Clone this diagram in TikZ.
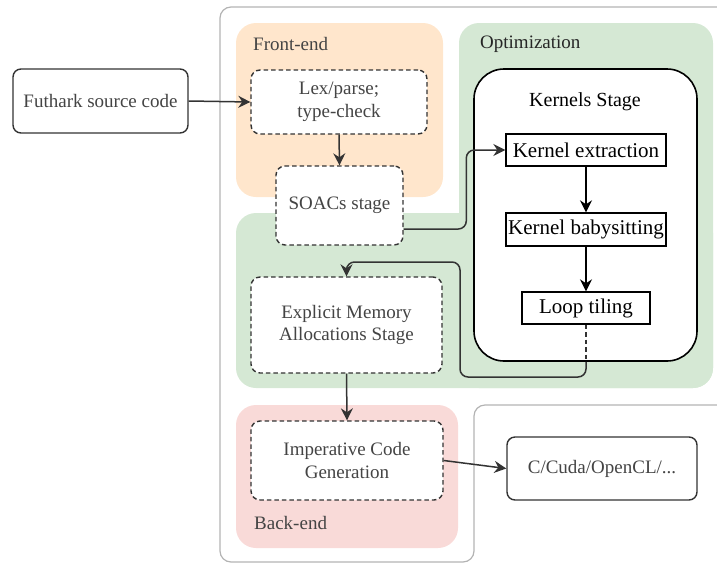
\documentclass[tikz,border=0pt]{standalone}
\usepackage{fontspec}
\setmainfont{Liberation Serif}
\usetikzlibrary{arrows.meta}
\definecolor{txt}{HTML}{444444}
\definecolor{lin}{HTML}{333333}
\definecolor{outl}{HTML}{B3B3B3}
\definecolor{peach}{HTML}{FFE6CC}
\definecolor{greenr}{HTML}{D5E8D4}
\definecolor{pinkr}{HTML}{F9DAD8}
\begin{document}
\begin{tikzpicture}[x=1pt,y=-1pt,
  gfont/.style={font=\fontsize{19}{22.5}\selectfont},
  kfont/.style={font=\fontsize{21}{24}\selectfont},
  dbox/.style={draw=lin, line width=1.4pt, dash pattern=on 4.5pt off 3pt, rounded corners=9pt, fill=white,
    inner sep=0pt, text=txt, gfont, align=center},
  sbox/.style={draw=lin, line width=1.4pt, rounded corners=8pt, fill=white,
    inner sep=0pt, text=txt, gfont, align=center},
  kbox/.style={draw=black, line width=1.4pt, fill=white, inner sep=0pt, text=black, kfont},
  arr/.style={draw=lin, line width=1.5pt, -{Stealth[length=12pt,width=12pt,inset=4pt]}},
  karr/.style={draw=black, line width=1.5pt, -{Stealth[length=12pt,width=12pt,inset=4pt]}},
  lbl/.style={inner sep=0pt, anchor=west, gfont, text=txt}]
\useasboundingbox (0,0) rectangle (717,563);

% outer outline
\draw[outl, line width=1.2pt, rounded corners=11pt] (740,7) -- (220,7) -- (220,562) -- (474,562) -- (474,405) -- (740,405);

% regions
\fill[peach, rounded corners=20pt] (236,23) rectangle (443,197);
\fill[greenr, rounded corners=20pt] (459,23) rectangle (713,388);
\fill[greenr, rounded corners=20pt] (236,213) rectangle (713,388);
\fill[pinkr, rounded corners=20pt] (236,405) rectangle (458,548);

\node[lbl] (fe) at (253,44) {Front-end};
\node[lbl, text=black!85] (opt) at (480,44) {Optimization};
\node[lbl] (be) at (254,523) {Back-end};

% kernels stage container
\node[draw=black, line width=1.6pt, rounded corners=30pt, fill=white, minimum width=223pt, minimum height=292pt, inner sep=0pt] (ks) at (585.5,215) {};
\node[kfont, inner sep=0pt, text=black, font=\fontsize{20}{24}\selectfont] (kst) at (585,102) {Kernels Stage};

% nodes
\node[sbox, minimum width=175pt, minimum height=64pt] (src) at (100.5,101) {Futhark source code};
\node[dbox, minimum width=176pt, minimum height=64pt] (lex) at (339,102) {Lex/parse;\\type-check};
\node[dbox, minimum width=127pt, minimum height=79pt] (soacs) at (339.5,205.5) {SOACs stage};
\node[dbox, minimum width=191pt, minimum height=96pt] (em) at (346.5,325) {Explicit Memory\\Allocations Stage};
\node[dbox, minimum width=192pt, minimum height=79pt] (icg) at (347,460.5) {Imperative Code\\Generation};
\node[sbox, minimum width=190pt, minimum height=63pt] (out) at (602,468.5) {C/Cuda/OpenCL/...};

\node[kbox, minimum width=160pt, minimum height=32pt] (ke) at (586,150) {Kernel extraction};
\node[kbox, minimum width=160pt, minimum height=33pt] (kb) at (586,229.5) {Kernel babysitting};
\node[kbox, minimum width=128pt, minimum height=32pt] (lt) at (586,308) {Loop tiling};

% connectors
\draw[arr] (src.east) -- (lex.west);
\draw[arr] (lex.south) -- (soacs.north);
\draw[arr, rounded corners=8pt] ([yshift=-23.5pt]soacs.east) -| ([xshift=-39pt]ke.west) -- (ke.west);
\draw[karr] (ke.south) -- (kb.north);
\draw[karr] (kb.south) -- (lt.north);
\coordinate (ltb) at (lt.south |- ks.south);
\draw[lin, line width=1.4pt, dash pattern=on 4.5pt off 3pt] (lt.south) -- (ltb);
\coordinate (r1) at (586,377);
\coordinate (r2) at (460,262);
\draw[arr, rounded corners=8pt] (ltb) -- (r1) -| (r2) -| (em.north);
\draw[arr] (em.south) -- (icg.north);
\draw[arr] (icg.east) -- (out.west);
\end{tikzpicture}
\end{document}
